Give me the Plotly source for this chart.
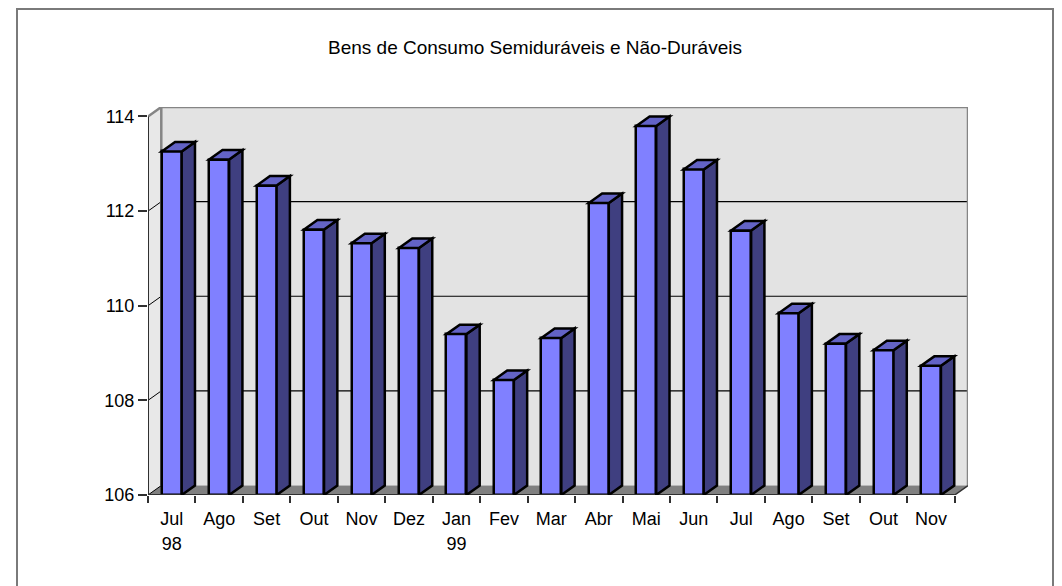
import plotly.graph_objects as go

# ---- data ----
months = ["Jul", "Ago", "Set", "Out", "Nov", "Dez", "Jan", "Fev", "Mar",
          "Abr", "Mai", "Jun", "Jul", "Ago", "Set", "Out", "Nov"]
year_labels = ["98", "99"]
year_positions = [0, 6]
values = [113.26, 113.09, 112.54, 111.61, 111.32, 111.22, 109.40, 108.43, 109.32,
          112.17, 113.80, 112.88, 111.59, 109.84, 109.20, 109.06, 108.73]
y_ticks = [106, 108, 110, 112, 114]
title_text = "Bens de Consumo Semiduráveis e Não-Duráveis"

# ---- geometry / style ----
OFF = 8                      # page body margin of the html page
W, H = 1062 - OFF, 586 - OFF
L, R, T, B = 148 - OFF, 94, 107 - OFF, 91
ymin, ymax = 106, 114
dx = 0.28      # depth offset in category units
dy = 0.20      # depth offset in value units
bw = 0.42      # bar width
n = len(months)
x0, x1 = -0.5, n - 0.5
idx = list(range(n))

FRONT = "#8080FF"
SIDE = "#3F3F80"
TOP = "#6363C6"
WALL = "#E3E3E3"
LWALL = "#E8E8E8"
FLOOR = "#808080"
FONT = "Liberation Sans, Arial, sans-serif"
TICKFS = 18
TITLEFS = 19

fig = go.Figure()
fig.add_trace(go.Bar(
    x=idx, y=[v - ymin for v in values], base=ymin, width=bw,
    marker=dict(color=FRONT, line=dict(color="black", width=2.5)),
    cliponaxis=False, showlegend=False,
    customdata=values, hovertemplate="%{customdata}<extra></extra>"))
# helper traces for the overlay axes
fig.add_trace(go.Scatter(x=[None], y=[None], xaxis="x2", showlegend=False))
fig.add_trace(go.Scatter(x=[None], y=[None], xaxis="x3", showlegend=False))

shapes = []
def path(pts):
    return "M " + " L ".join(f"{a},{b}" for a, b in pts) + " Z"

# walls & floor
shapes.append(dict(type="path", xref="x", yref="y", layer="below",
                   path=path([(x0 + dx, ymin + dy), (x1 + dx, ymin + dy),
                              (x1 + dx, ymax + dy), (x0 + dx, ymax + dy)]),
                   fillcolor=WALL, line=dict(width=0)))
shapes.append(dict(type="path", xref="x", yref="y", layer="below",
                   path=path([(x0, ymin), (x0 + dx, ymin + dy),
                              (x0 + dx, ymax + dy), (x0, ymax)]),
                   fillcolor=LWALL, line=dict(width=0)))
shapes.append(dict(type="path", xref="x", yref="y", layer="below",
                   path=path([(x0, ymin), (x1, ymin), (x1 + dx, ymin + dy),
                              (x0 + dx, ymin + dy)]),
                   fillcolor=FLOOR, line=dict(width=0)))
# gridlines
for v in y_ticks[1:-1]:
    shapes.append(dict(type="line", xref="x", yref="y", layer="below",
                       x0=x0 + dx, x1=x1 + dx, y0=v + dy, y1=v + dy,
                       line=dict(color="black", width=1.2)))
    shapes.append(dict(type="line", xref="x", yref="y", layer="below",
                       x0=x0, x1=x0 + dx, y0=v, y1=v + dy,
                       line=dict(color="black", width=1)))
shapes.append(dict(type="line", xref="x", yref="y", layer="below",
                   x0=x0, x1=x0 + dx, y0=ymin, y1=ymin + dy,
                   line=dict(color="black", width=1)))
# wall borders (gray)
for (a, b, c, d) in [(x0 + dx, ymax + dy, x1 + dx, ymax + dy),
                     (x1 + dx, ymin + dy, x1 + dx, ymax + dy),
                     (x0 + dx, ymin + dy, x0 + dx, ymax + dy),
                     (x0, ymax, x0 + dx, ymax + dy)]:
    shapes.append(dict(type="line", xref="x", yref="y", layer="below",
                       x0=a, y0=b, x1=c, y1=d,
                       line=dict(color="#858585", width=2.5)))
# front axis lines
shapes.append(dict(type="line", xref="x", yref="y", layer="above",
                   x0=x0, x1=x0, y0=ymin, y1=ymax,
                   line=dict(color="#303030", width=2)))
shapes.append(dict(type="line", xref="x", yref="y", layer="above",
                   x0=x0, x1=x1, y0=ymin, y1=ymin,
                   line=dict(color="#303030", width=2)))
shapes.append(dict(type="line", xref="x", yref="y", layer="above",
                   x0=x1, x1=x1 + dx, y0=ymin, y1=ymin + dy,
                   line=dict(color="#303030", width=1.5)))

# bar side and top faces
for i, v in enumerate(values):
    xl, xr = i - bw / 2, i + bw / 2
    shapes.append(dict(type="path", xref="x", yref="y", layer="above",
                       path=path([(xr, ymin), (xr + dx, ymin + dy),
                                  (xr + dx, v + dy), (xr, v)]),
                       fillcolor=SIDE, line=dict(color="black", width=2.5)))
    shapes.append(dict(type="path", xref="x", yref="y", layer="above",
                       path=path([(xl, v), (xr, v), (xr + dx, v + dy),
                                  (xl + dx, v + dy)]),
                       fillcolor=TOP, line=dict(color="black", width=2.5)))

# outer chart border (paper coords derived from pixel frame)
pw, ph = W - L - R, H - T - B
def px(xp): return (xp - OFF - L) / pw
def py(yp): return (H - B - (yp - OFF)) / ph
shapes.append(dict(type="rect", xref="paper", yref="paper", layer="above",
                   x0=px(17), x1=px(1053), y0=py(600), y1=py(9),
                   line=dict(color="#7a7a7a", width=2), fillcolor="rgba(0,0,0,0)"))

xr_ = [x0, x1 + dx]
fig.update_layout(
    width=W, height=H,
    margin=dict(l=L, r=R, t=T, b=B, pad=0, autoexpand=False),
    paper_bgcolor="white", plot_bgcolor="rgba(0,0,0,0)",
    font=dict(family=FONT, size=TICKFS, color="black"),
    title=dict(text=title_text, x=(535 - OFF) / W, xanchor="center",
               y=1 - (47 - OFF) / H, yanchor="middle",
               font=dict(family=FONT, size=TITLEFS, color="black")),
    bargap=0, showlegend=False,
    xaxis=dict(range=xr_, tickvals=idx, ticktext=months, showgrid=False,
               zeroline=False, showline=False, ticks="outside", ticklen=7,
               tickcolor="rgba(0,0,0,0)", tickfont=dict(size=TICKFS)),
    xaxis2=dict(range=xr_, overlaying="x", anchor="y", side="bottom",
                tickvals=[i - 0.5 for i in range(n + 1)], showticklabels=False,
                ticks="outside", ticklen=7, tickcolor="#303030", tickwidth=1.5,
                showgrid=False, zeroline=False, showline=False),
    xaxis3=dict(range=xr_, overlaying="x", anchor="y", side="bottom",
                tickvals=year_positions, ticktext=year_labels,
                ticks="outside", ticklen=32, tickcolor="rgba(0,0,0,0)",
                tickfont=dict(size=TICKFS),
                showgrid=False, zeroline=False, showline=False),
    yaxis=dict(range=[ymin, ymax + dy], tickvals=y_ticks, showgrid=False,
               zeroline=False, showline=False, ticks="outside", ticklen=9,
               tickcolor="#303030", tickwidth=1.5, tickfont=dict(size=TICKFS)),
    shapes=shapes,
)
fig.write_html("out.html")
